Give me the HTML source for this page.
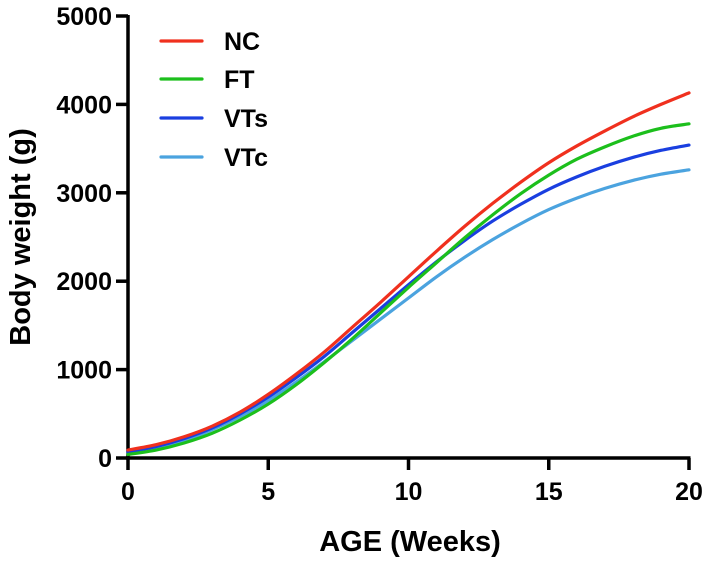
<!DOCTYPE html>
<html><head><meta charset="utf-8"><style>
html,body{margin:0;padding:0;background:#fff;}
svg{display:block;font-family:"Liberation Sans",Arial,sans-serif;font-weight:bold;}
</style></head><body>
<svg id="chart" width="707" height="561" viewBox="0 0 707 561">
<g id="axes"></g>
<g id="series"></g>
<g id="legend"></g>
<text x="410" y="551" text-anchor="middle" font-size="29">AGE (Weeks)</text>
<text transform="translate(30,237) rotate(-90)" text-anchor="middle" font-size="29">Body weight (g)</text>
</svg>
<script>
const weeks = [0,1,2,3,4,5,6,7,8,9,10,11,12,13,14,15,16,17,18,19,20];
const ncValues = [90,150,240,360,520,720,950,1200,1480,1760,2050,2340,2620,2880,3120,3340,3530,3700,3860,4000,4130];
const ftValues = [40,90,170,280,430,610,830,1080,1350,1640,1930,2210,2490,2750,2990,3200,3380,3520,3640,3730,3780];
const vtsValues = [70,130,220,340,500,690,910,1150,1420,1690,1960,2220,2460,2680,2870,3040,3180,3300,3400,3480,3540];
const vtcValues = [60,120,200,320,470,650,860,1090,1330,1570,1810,2050,2270,2470,2650,2810,2940,3050,3140,3210,3260];
const seriesNames = ["NC","FT","VTs","VTc"];
const seriesColors = ["#f0301e","#1cbf1c","#1a3fe0","#4ba3df"];
const xTicks = [0,5,10,15,20];
const yTicks = [0,1000,2000,3000,4000,5000];

const NS="http://www.w3.org/2000/svg";
const X0=128,X1=689,Y0=458,Y1=16;
const xs=v=>X0+(v-0)/(20-0)*(X1-X0);
const ys=v=>Y0-(v/5000)*(Y0-Y1);
function mk(t,a,p){const e=document.createElementNS(NS,t);for(const k in a)e.setAttribute(k,a[k]);p.appendChild(e);return e;}
const axes=document.getElementById('axes');
let yl=mk('line',{x1:X0,y1:Y0,x2:X0,y2:Y1-1,stroke:'#000','stroke-width':3.5},axes);


let xl=mk('line',{x1:X0-2,y1:Y0,x2:X1+1.5,y2:Y0,stroke:'#000','stroke-width':3.5},axes);


yTicks.forEach(v=>{
  const y=ys(v);
  const t=mk('line',{x1:X0-12,y1:y,x2:X0,y2:y,stroke:'#000','stroke-width':3.5},axes);
  
  
  const l=mk('text',{x:X0-16,y:y+9,'text-anchor':'end','font-size':25},axes);
  l.textContent=v;
  
  
});
xTicks.forEach(v=>{
  const x=xs(v);
  const t=mk('line',{x1:x,y1:Y0,x2:x,y2:Y0+12,stroke:'#000','stroke-width':3.5},axes);
  
  
  const l=mk('text',{x:x,y:Y0+42,'text-anchor':'middle','font-size':25},axes);
  l.textContent=v;
  
  
});
function smooth(pts){
  let d=`M${pts[0][0]},${pts[0][1]}`;
  for(let i=0;i<pts.length-1;i++){
    const p0=pts[i-1]||pts[i],p1=pts[i],p2=pts[i+1],p3=pts[i+2]||p2;
    const c1=[p1[0]+(p2[0]-p0[0])/6,p1[1]+(p2[1]-p0[1])/6];
    const c2=[p2[0]-(p3[0]-p1[0])/6,p2[1]-(p3[1]-p1[1])/6];
    d+=` C${c1[0]},${c1[1]} ${c2[0]},${c2[1]} ${p2[0]},${p2[1]}`;
  }
  return d;
}
const allVals=[ncValues,ftValues,vtsValues,vtcValues];
const sg=document.getElementById('series');
[3,2,1,0].forEach(i=>{
  const pts=weeks.map((w,j)=>[xs(w),ys(allVals[i][j])]);
  const p=mk('path',{d:smooth(pts),fill:'none',stroke:seriesColors[i],'stroke-width':3.2,'stroke-linecap':'round'},sg);
  
  
});
const lg=document.getElementById('legend');
const ly=[41,79,118,157];
seriesNames.forEach((n,i)=>{
  const l=mk('line',{x1:161,y1:ly[i],x2:202,y2:ly[i],stroke:seriesColors[i],'stroke-width':3.2,'stroke-linecap':'round'},lg);
  
  
  const t=mk('text',{x:224,y:ly[i]+9,'font-size':25},lg);
  t.textContent=n;
  
  
});
</script>
</body></html>
